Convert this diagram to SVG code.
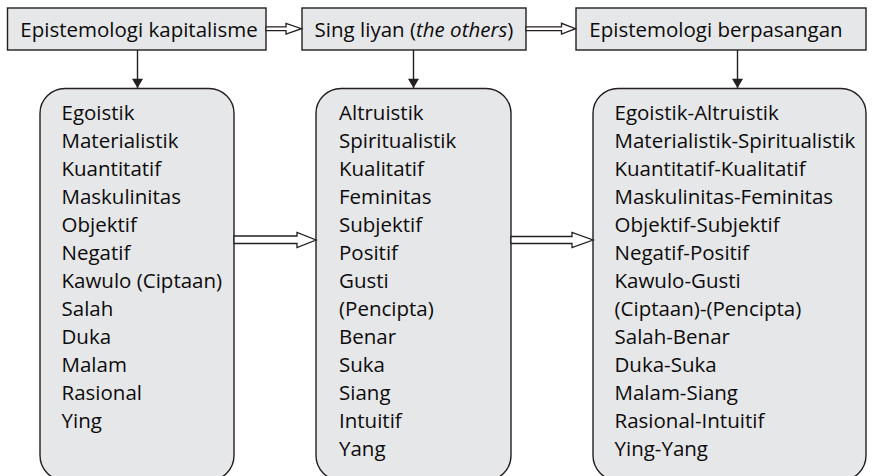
<svg xmlns="http://www.w3.org/2000/svg" width="872" height="476" viewBox="0 0 872 476">
  <style>
    .box { fill: #e6e7e8; stroke: #231f20; stroke-width: 1.4; }
    .txt { font-family: "Open Sans", "Noto Sans", "DejaVu Sans", sans-serif; font-size: 20.5px; fill: #0d0b0c; }
    .head { text-anchor: middle; }
    .line { stroke: #231f20; stroke-width: 1.4; fill: none; }
    .hollow { fill: #ffffff; stroke: #231f20; stroke-width: 1.3; stroke-linejoin: miter; }
  </style>
  <defs>
    <marker id="tip" viewBox="0 0 10 12" refX="10" refY="6" markerWidth="12" markerHeight="11" markerUnits="userSpaceOnUse" orient="auto">
      <path d="M0,0 L10,6 L0,12 Z" fill="#231f20"/>
    </marker>
  </defs>
  <rect width="872" height="476" fill="#ffffff"/>

  <!-- header boxes -->
  <g id="kapitalisme">
    <rect class="box" x="7.5" y="8" width="258.5" height="42"/>
    <text class="txt head" x="139" y="36.5" font-size="19.8">Epistemologi kapitalisme</text>
  </g>
  <g id="liyan">
    <rect class="box" x="302" y="8" width="224" height="42"/>
    <text class="txt head" x="414" y="36.5">Sing liyan (<tspan font-style="italic">the others</tspan>)</text>
  </g>
  <g id="berpasangan">
    <rect class="box" x="576" y="8" width="290" height="42"/>
    <text class="txt head" x="716" y="36.5">Epistemologi berpasangan</text>
  </g>

  <!-- list boxes -->
  <g id="list-kapitalisme">
    <rect class="box" x="40" y="88.5" width="194" height="392" rx="25" ry="25"/>
    <text class="txt" x="61.5" y="120">
      <tspan x="61.5" dy="0">Egoistik</tspan>
      <tspan x="61.5" dy="28">Materialistik</tspan>
      <tspan x="61.5" dy="28">Kuantitatif</tspan>
      <tspan x="61.5" dy="28">Maskulinitas</tspan>
      <tspan x="61.5" dy="28">Objektif</tspan>
      <tspan x="61.5" dy="28">Negatif</tspan>
      <tspan x="61.5" dy="28">Kawulo (Ciptaan)</tspan>
      <tspan x="61.5" dy="28">Salah</tspan>
      <tspan x="61.5" dy="28">Duka</tspan>
      <tspan x="61.5" dy="28">Malam</tspan>
      <tspan x="61.5" dy="28">Rasional</tspan>
      <tspan x="61.5" dy="28">Ying</tspan>
    </text>
  </g>
  <g id="list-liyan">
    <rect class="box" x="316" y="88.5" width="195" height="392" rx="25" ry="25"/>
    <text class="txt" x="339" y="120">
      <tspan x="339" dy="0">Altruistik</tspan>
      <tspan x="339" dy="28">Spiritualistik</tspan>
      <tspan x="339" dy="28">Kualitatif</tspan>
      <tspan x="339" dy="28">Feminitas</tspan>
      <tspan x="339" dy="28">Subjektif</tspan>
      <tspan x="339" dy="28">Positif</tspan>
      <tspan x="339" dy="28">Gusti</tspan>
      <tspan x="339" dy="28">(Pencipta)</tspan>
      <tspan x="339" dy="28">Benar</tspan>
      <tspan x="339" dy="28">Suka</tspan>
      <tspan x="339" dy="28">Siang</tspan>
      <tspan x="339" dy="28">Intuitif</tspan>
      <tspan x="339" dy="28">Yang</tspan>
    </text>
  </g>
  <g id="list-berpasangan">
    <rect class="box" x="593" y="88.5" width="273" height="392" rx="25" ry="25"/>
    <text class="txt" x="614.5" y="120">
      <tspan x="614.5" dy="0">Egoistik-Altruistik</tspan>
      <tspan x="614.5" dy="28">Materialistik-Spiritualistik</tspan>
      <tspan x="614.5" dy="28">Kuantitatif-Kualitatif</tspan>
      <tspan x="614.5" dy="28">Maskulinitas-Feminitas</tspan>
      <tspan x="614.5" dy="28">Objektif-Subjektif</tspan>
      <tspan x="614.5" dy="28">Negatif-Positif</tspan>
      <tspan x="614.5" dy="28">Kawulo-Gusti</tspan>
      <tspan x="614.5" dy="28">(Ciptaan)-(Pencipta)</tspan>
      <tspan x="614.5" dy="28">Salah-Benar</tspan>
      <tspan x="614.5" dy="28">Duka-Suka</tspan>
      <tspan x="614.5" dy="28">Malam-Siang</tspan>
      <tspan x="614.5" dy="28">Rasional-Intuitif</tspan>
      <tspan x="614.5" dy="28">Ying-Yang</tspan>
    </text>
  </g>

  <!-- connectors -->
  <g id="connectors">
    <!-- down arrows from headers to lists -->
    <line class="line" x1="137.5" y1="50" x2="137.5" y2="88" marker-end="url(#tip)"/>
    <line class="line" x1="413.5" y1="50" x2="413.5" y2="88" marker-end="url(#tip)"/>
    <line class="line" x1="737.5" y1="50" x2="737.5" y2="88" marker-end="url(#tip)"/>
    <!-- hollow arrows between headers -->
    <path class="hollow" d="M266,26.8 L286,26.8 L286,23.3 L301.5,28.7 L286,34.1 L286,30.6 L266,30.6 Z"/>
    <path class="hollow" d="M526,26.8 L561.5,26.8 L561.5,23.3 L575.5,28.7 L561.5,34.1 L561.5,30.6 L526,30.6 Z"/>
    <!-- hollow arrows between lists -->
    <path class="hollow" d="M234,236 L297,236 L297,232.5 L316,240 L297,247.5 L297,243.5 L234,243.5 Z"/>
    <path class="hollow" d="M511,236.5 L572,236.5 L572,232.5 L593,240 L572,247.5 L572,243.5 L511,243.5 Z"/>
  </g>
</svg>
